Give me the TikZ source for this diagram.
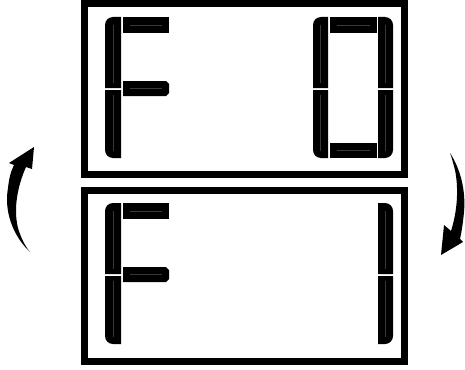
\documentclass[tikz,border=0pt]{standalone}
\usepackage{tikz}

\begin{document}
\begin{tikzpicture}[
  x=1pt, y=-1pt,
  frame/.style={draw=black, line width=7pt},
  seg/.style={fill=black},
  glint/.style={draw=gray!45!black, line width=0.9pt},
  turn/.style={fill=black},
]
\useasboundingbox (0,0) rectangle (465,369);

% Display frames
\draw[frame] (84.5,3.5) rectangle (404.5,174.5);
\draw[frame] (84.5,190.5) rectangle (404.5,361.5);

% Letter F on both displays
\foreach \dy in {0,186} {
  \begin{scope}[shift={(0,\dy)}]
    \fill[seg] (121,88) -- (105,88) -- (105,25) arc[start angle=180, end angle=270, radius=8] -- (121,17) -- cycle;
    \fill[seg] (121,90) -- (105,90) -- (105,150) arc[start angle=180, end angle=90, radius=8] -- (121,158) -- cycle;
    \fill[seg] (123,17) rectangle (169,33);
    \fill[seg] (123,81) -- (166,81) -- (169,84) -- (169,93) -- (166,96) -- (123,96) -- cycle;
    \draw[glint] (113,25) -- (113,83);
    \draw[glint] (113,95) -- (113,151);
    \draw[glint] (130,25) -- (162,25);
    \draw[glint] (130,88.5) -- (162,88.5);
  \end{scope}
}

% Digit 0 on the top display
\fill[seg] (328,88) -- (313,88) -- (313,25) arc[start angle=180, end angle=270, radius=8] -- (328,17) -- cycle;
\fill[seg] (328,90) -- (313,90) -- (313,150) arc[start angle=180, end angle=90, radius=8] -- (328,158) -- cycle;
\fill[seg] (330,17) rectangle (377,33);
\fill[seg] (330,143) rectangle (377,158);
\fill[seg] (378,88) -- (378,17) -- (385,17) arc[start angle=270, end angle=360, radius=8] -- (393,88) -- cycle;
\fill[seg] (378,90) -- (393,90) -- (393,150) arc[start angle=0, end angle=90, radius=8] -- (378,158) -- cycle;
\draw[glint] (320.5,25) -- (320.5,83);
\draw[glint] (320.5,95) -- (320.5,151);
\draw[glint] (385.5,25) -- (385.5,83);
\draw[glint] (385.5,95) -- (385.5,151);
\draw[glint] (337,25) -- (370,25);
\draw[glint] (337,150.5) -- (370,150.5);

% Digit 1 on the bottom display
\begin{scope}[shift={(0,186)}]
  \fill[seg] (378,88) -- (378,17) -- (385,17) arc[start angle=270, end angle=360, radius=8] -- (393,88) -- cycle;
  \fill[seg] (378,90) -- (393,90) -- (393,150) arc[start angle=0, end angle=90, radius=8] -- (378,158) -- cycle;
  \draw[glint] (385.5,25) -- (385.5,83);
  \draw[glint] (385.5,95) -- (385.5,151);
\end{scope}

% Turning arrows
\fill[turn] (30,252) .. controls (12,235) and (4,210) .. (8,188)
  .. controls (9,178) and (11,171) .. (14,165) -- (9,163) -- (34,147) -- (32,169) -- (26,167)
  .. controls (18,185) and (13,208) .. (18,228)
  .. controls (21,238) and (25,246) .. (30,252) -- cycle;
\fill[turn] (450,153) .. controls (460,168) and (466,190) .. (464,212)
  .. controls (463,222) and (462,230) .. (460,239) -- (463,242) -- (441,255) -- (444,225) -- (451,231)
  .. controls (457,212) and (459,190) .. (455,170)
  .. controls (453,163) and (452,158) .. (450,153) -- cycle;

\end{tikzpicture}
\end{document}
